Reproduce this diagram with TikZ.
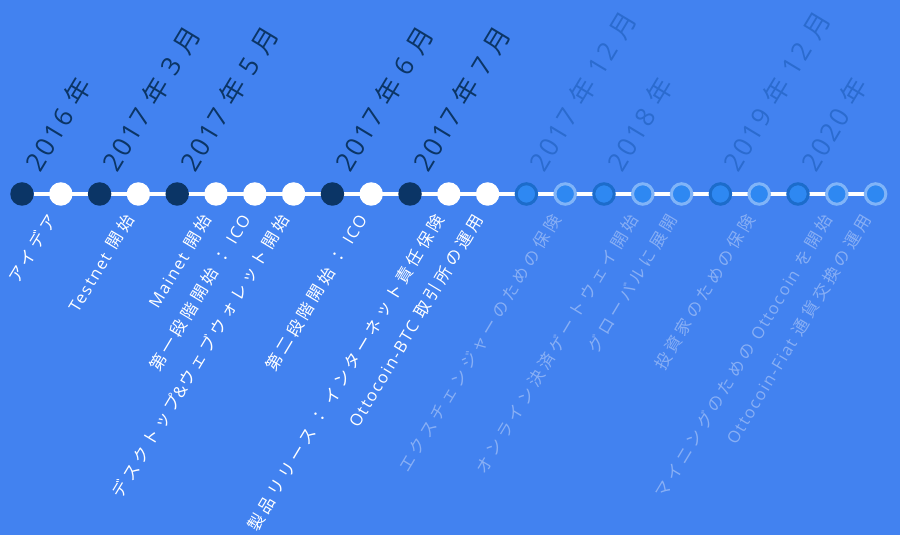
\documentclass[tikz,border=0pt]{standalone}
\usepackage{fontspec}
\setmainfont{Noto Sans CJK JP}
\newfontfamily\yearfont[LetterSpace=15]{Noto Sans CJK JP}
\newfontfamily\eventfont[LetterSpace=22]{Noto Sans CJK JP}
\newfontfamily\latinfont[LetterSpace=10]{Open Sans}
\newcommand{\latn}[1]{{\latinfont #1}}
\usetikzlibrary{positioning, backgrounds}

\definecolor{bgblue}{HTML}{4282F0}
\definecolor{navy}{HTML}{0B3566}
\definecolor{dimnavy}{HTML}{2B6BCF}
\definecolor{futfill}{HTML}{2E88F2}
\definecolor{futdark}{HTML}{1C6CCB}
\definecolor{futlight}{HTML}{80B4F8}
\definecolor{futtext}{HTML}{88AFF5}

\begin{document}
\begin{tikzpicture}[
            x=1pt, y=1pt,
            node distance=38.8pt, on grid,
            dot/.style={circle, inner sep=0pt, outer sep=0pt, minimum size=23.5pt},
            done/.style={dot, fill=white},
            mile/.style={dot, fill=navy},
            plan/.style={dot, minimum size=20.5pt, fill=futfill, draw=futlight, line width=3pt},
            goal/.style={plan, draw=futdark},
            year/.style={inner sep=0pt, anchor=base west, rotate=59, font=\yearfont\fontsize{26}{26}\selectfont, text=navy},
            futyear/.style={year, text=dimnavy},
            event/.style={inner sep=0pt, anchor=east, rotate=59, font=\eventfont\fontsize{16.5}{16.5}\selectfont, text=white},
            futevent/.style={event, text=futtext},
            track/.style={white, line width=4pt}
        ]
        \useasboundingbox (0,0) rectangle (900,535);

        % Timeline dots
        \node[mile] (dot-1) at (22,341) {};
        \node[done, right=of dot-1] (dot-2) {};
        \node[mile, right=of dot-2] (dot-3) {};
        \node[done, right=of dot-3] (dot-4) {};
        \node[mile, right=of dot-4] (dot-5) {};
        \node[done, right=of dot-5] (dot-6) {};
        \node[done, right=of dot-6] (dot-7) {};
        \node[done, right=of dot-7] (dot-8) {};
        \node[mile, right=of dot-8] (dot-9) {};
        \node[done, right=of dot-9] (dot-10) {};
        \node[mile, right=of dot-10] (dot-11) {};
        \node[done, right=of dot-11] (dot-12) {};
        \node[done, right=of dot-12] (dot-13) {};
        \node[goal, right=of dot-13] (dot-14) {};
        \node[plan, right=of dot-14] (dot-15) {};
        \node[goal, right=of dot-15] (dot-16) {};
        \node[plan, right=of dot-16] (dot-17) {};
        \node[plan, right=of dot-17] (dot-18) {};
        \node[goal, right=of dot-18] (dot-19) {};
        \node[plan, right=of dot-19] (dot-20) {};
        \node[goal, right=of dot-20] (dot-21) {};
        \node[plan, right=of dot-21] (dot-22) {};
        \node[plan, right=of dot-22] (dot-23) {};

        % Dates
        \node[year] (yr-2016) at ([xshift=18pt, yshift=20pt]dot-1.center) {\latn{2016} 年};
        \node[year] (yr-2017-3) at ([xshift=18pt, yshift=20pt]dot-3.center) {\latn{2017} 年 \latn{3} 月};
        \node[year] (yr-2017-5) at ([xshift=18pt, yshift=20pt]dot-5.center) {\latn{2017} 年 \latn{5} 月};
        \node[year] (yr-2017-6) at ([xshift=18pt, yshift=20pt]dot-9.center) {\latn{2017} 年 \latn{6} 月};
        \node[year] (yr-2017-7) at ([xshift=18pt, yshift=20pt]dot-11.center) {\latn{2017} 年 \latn{7} 月};
        \node[futyear] (yr-2017-12) at ([xshift=18pt, yshift=20pt]dot-14.center) {\latn{2017} 年 \latn{12} 月};
        \node[futyear] (yr-2018) at ([xshift=18pt, yshift=20pt]dot-16.center) {\latn{2018} 年};
        \node[futyear] (yr-2019-12) at ([xshift=18pt, yshift=20pt]dot-19.center) {\latn{2019} 年 \latn{12} 月};
        \node[futyear] (yr-2020) at ([xshift=18pt, yshift=20pt]dot-21.center) {\latn{2020} 年};

        % Events
        \node[event] (idea) at ([xshift=30pt, yshift=-22pt]dot-1.center) {アイデア};
        \node[event] (testnet) at ([xshift=30pt, yshift=-22pt]dot-3.center) {\latn{Testnet} 開始};
        \node[event] (mainnet) at ([xshift=30pt, yshift=-22pt]dot-5.center) {\latn{Mainet} 開始};
        \node[event] (ico-1) at ([xshift=30pt, yshift=-22pt]dot-6.center) {第一段階開始 ： \latn{ICO}};
        \node[event] (wallet) at ([xshift=30pt, yshift=-22pt]dot-7.center) {デスクトップ\latn{\&}ウェブウォレット開始};
        \node[event] (ico-2) at ([xshift=30pt, yshift=-22pt]dot-9.center) {第二段階開始 ： \latn{ICO}};
        \node[event] (release) at ([xshift=30pt, yshift=-22pt]dot-11.center) {製品リリース ： インターネット責任保険};
        \node[event] (btc-ex) at ([xshift=30pt, yshift=-22pt]dot-12.center) {\latn{Ottocoin-BTC} 取引所の運用};
        \node[futevent] (ex-ins) at ([xshift=30pt, yshift=-22pt]dot-14.center) {エクスチェンジャーのための保険};
        \node[futevent] (gateway) at ([xshift=30pt, yshift=-22pt]dot-16.center) {オンライン決済ゲートウェイ開始};
        \node[futevent] (global) at ([xshift=30pt, yshift=-22pt]dot-17.center) {グローバルに展開};
        \node[futevent] (inv-ins) at ([xshift=30pt, yshift=-22pt]dot-19.center) {投資家のための保険};
        \node[futevent] (mining) at ([xshift=30pt, yshift=-22pt]dot-21.center) {マイニングのための \latn{Ottocoin} を開始};
        \node[futevent] (fiat) at ([xshift=30pt, yshift=-22pt]dot-22.center) {\latn{Ottocoin-Fiat} 通貨交換の運用};

        % Background and line
        \begin{scope}[on background layer]
            \fill[bgblue] (0,0) rectangle (900,535);
            \draw[track] (dot-1) -- (dot-23);
        \end{scope}

    \end{tikzpicture}
\end{document}
